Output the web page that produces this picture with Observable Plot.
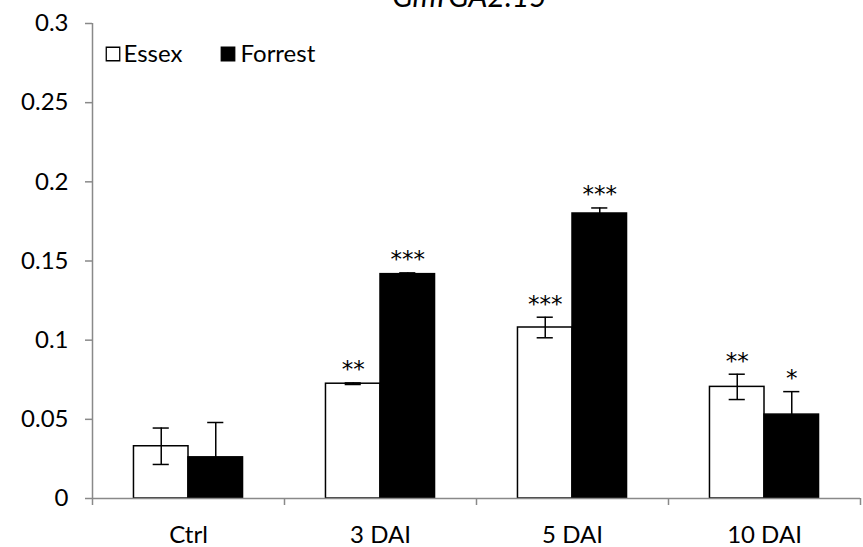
<!DOCTYPE html>
<html>
<head>
<meta charset="utf-8">
<script src="https://cdn.jsdelivr.net/npm/d3@7"></script>
<script src="https://cdn.jsdelivr.net/npm/@observablehq/plot@0.6"></script>
<style>
  html, body { margin: 0; padding: 0; background: white; }
  #chart { width: 863px; height: 547px; overflow: hidden; }
</style>
</head>
<body>
<div id="chart"></div>
<script>
const title = "GmTGA2.15";
const categories = ["Ctrl", "3 DAI", "5 DAI", "10 DAI"];
const seriesNames = ["Essex", "Forrest"];
const essex = [0.033, 0.0725, 0.108, 0.0705];
const essexErr = [0.0115, 0.0005, 0.0065, 0.008];
const forrest = [0.026, 0.1417, 0.18, 0.053];
const forrestErr = [0.022, 0.0008, 0.0035, 0.0145];
const essexSig = ["", "**", "***", "**"];
const forrestSig = ["", "***", "***", "*"];
const yTicks = [0, 0.05, 0.1, 0.15, 0.2, 0.25, 0.3];

const barW = 0.284;   // bar width as fraction of a category slot
const capW = 0.042;   // error-bar cap half width

const rows = [];
categories.forEach((c, i) => {
  rows.push({cat: c, i, series: "Essex", value: essex[i], err: essexErr[i], sig: essexSig[i], x1: i + 0.5 - barW, x2: i + 0.5});
  rows.push({cat: c, i, series: "Forrest", value: forrest[i], err: forrestErr[i], sig: forrestSig[i], x1: i + 0.5, x2: i + 0.5 + barW});
});
rows.forEach(d => { d.xc = (d.x1 + d.x2) / 2; });

const font = "Lato, 'Open Sans', sans-serif";
const gray = "#898989";
const fs = 24;

const plot = Plot.plot({
  width: 863,
  height: 547,
  marginLeft: 92,
  marginRight: 3,
  marginTop: 23,
  marginBottom: 49,
  style: {fontFamily: font, fontSize: fs + "px", color: "black", background: "white", overflow: "visible"},
  x: {type: "linear", domain: [0, categories.length]},
  y: {domain: [0, 0.3]},
  marks: [
    // axes
    Plot.ruleX([0], {stroke: gray, strokeWidth: 1.5}),
    Plot.axisY({ticks: yTicks, tickFormat: d => String(d), tickSize: 7, tickPadding: 17, stroke: gray, strokeWidth: 1.5, label: null, fontSize: fs, fill: "black"}),
    Plot.axisX({ticks: d3.range(categories.length + 1), tickFormat: () => "", tickSize: 7, stroke: gray, strokeWidth: 1.5, label: null}),
    Plot.axisX({ticks: categories.map((c, i) => i + 0.5), tickFormat: v => categories[Math.floor(v)], tickSize: 0, tickPadding: 27, label: null, fontSize: fs, fill: "black"}),
    // bars
    Plot.rectY(rows, {x1: "x1", x2: "x2", y1: 0, y2: "value", fill: d => d.series === "Essex" ? "white" : "black", stroke: "black", strokeWidth: 1.5}),
    Plot.ruleY([0], {stroke: gray, strokeWidth: 1.5}),
    // error bars
    Plot.ruleX(rows, {x: "xc", y1: d => d.value - d.err, y2: d => d.value + d.err, stroke: "black", strokeWidth: 1.5}),
    Plot.ruleY(rows, {y: d => d.value + d.err, x1: d => d.xc - capW, x2: d => d.xc + capW, stroke: "black", strokeWidth: 1.5}),
    Plot.ruleY(rows, {y: d => d.value - d.err, x1: d => d.xc - capW, x2: d => d.xc + capW, stroke: "black", strokeWidth: 1.5}),
    // significance
    Plot.text(rows.filter(d => d.sig), {x: "xc", y: d => d.value + d.err, text: "sig", dy: -13, fontSize: 23, fontFamily: "'DejaVu Sans', sans-serif", fill: "black"}),
    // legend
    Plot.dot([seriesNames[0]], {frameAnchor: "top-left", dx: 20.5, dy: 30.5, symbol: "square", r: 7.6, fill: "white", stroke: "black", strokeWidth: 1.3}),
    Plot.text([seriesNames[0]], {frameAnchor: "top-left", dx: 31, dy: 31, text: d => d, textAnchor: "start", lineAnchor: "middle", fontSize: fs, fill: "black"}),
    Plot.dot([seriesNames[1]], {frameAnchor: "top-left", dx: 135.5, dy: 30.5, symbol: "square", r: 7.6, fill: "black", stroke: "black", strokeWidth: 1.3}),
    Plot.text([seriesNames[1]], {frameAnchor: "top-left", dx: 148, dy: 31, text: d => d, textAnchor: "start", lineAnchor: "middle", fontSize: fs, fill: "black"}),
    // title
    Plot.text([title], {frameAnchor: "top", text: d => d, dx: -7, dy: -17, lineAnchor: "bottom", fontSize: 30, fontStyle: "italic", fill: "black"})
  ]
});

document.getElementById("chart").appendChild(plot);
</script>
</body>
</html>
